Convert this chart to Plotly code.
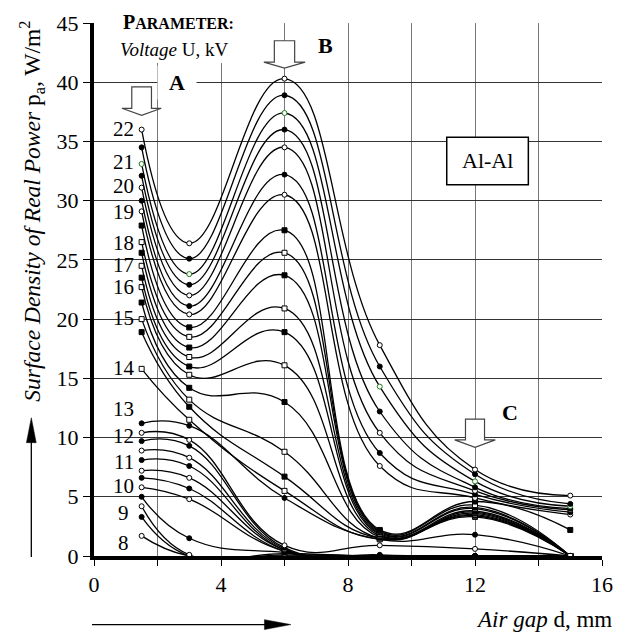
import plotly.graph_objects as go

# ---------------- data ----------------
gap_mm = [1.5, 3, 6, 9, 12, 15]
voltage_kv = [8.0, 8.5, 9.0, 9.5, 10.0, 10.5, 11.0, 11.5, 12.0, 12.5, 13.0, 13.5, 14.0, 14.5,
              15.0, 15.5, 16.0, 16.5, 17.0, 17.5, 18.0, 18.5, 19.0, 19.5, 20.0, 20.5, 21.0, 21.5, 22.0]
p_at_1_5 = [1.7, 3.3, 4.2, 5.0, 5.8, 6.6, 7.2, 8.1, 8.9, 9.7, 10.4, 11.2, 15.8, 18.9, 20.0,
            21.4, 22.7, 23.5, 24.5, 25.6, 26.5, 27.9, 29.1, 30.0, 31.1, 32.1, 33.1, 34.5, 36.0]
p_at_3 = [0.0, 0.0, 0.1, 1.5, 4.8, 5.7, 6.6, 7.6, 8.3, 9.3, 9.8, 11.0, 11.5, 12.6, 13.2,
          14.2, 15.3, 16.0, 16.8, 17.6, 18.5, 19.3, 20.4, 21.1, 22.0, 22.9, 23.8, 25.1, 26.4]
p_at_6 = [0.0, 0.1, 0.2, 0.3, 0.4, 0.4, 0.5, 0.5, 0.6, 0.7, 0.9, 4.9, 5.5, 6.7, 8.8,
          13.0, 16.1, 18.9, 20.9, 23.7, 25.6, 27.5, 30.5, 32.2, 34.5, 36.0, 37.4, 38.9, 40.3]
p_at_9 = [0.0, 0.0, 0.0, 0.0, 0.0, 0.0, 0.0, 0.0, 0.0, 0.1, 0.9, 1.4, 1.4, 1.5, 1.5,
          1.6, 1.7, 1.8, 1.9, 2.0, 2.1, 2.2, 7.6, 8.7, 10.4, 12.2, 14.3, 16.0, 17.8]
p_at_12 = [0.0, 0.0, 0.0, 0.0, 0.0, 0.0, 0.0, 0.0, 0.0, 0.0, 0.6, 1.8, 3.3, 3.4, 3.5,
           3.6, 3.7, 3.8, 4.0, 4.1, 4.3, 4.6, 4.9, 5.2, 5.5, 5.8, 6.3, 6.9, 7.3]
p_at_15 = [0.0, 0.0, 0.0, 0.0, 0.0, 0.0, 0.0, 0.0, 0.0, 0.0, 0.0, 0.0, 0.0, 0.0, 0.0,
           0.0, 0.0, 0.0, 0.0, 0.0, 0.0, 2.2, 3.5, 3.7, 3.9, 4.0, 4.2, 4.4, 5.1]
label_kv = ["8", "9", "10", "11", "12", "13", "14", "15", "16", "17", "18", "19", "20", "21", "22"]
y_tick_vals = [0, 5, 10, 15, 20, 25, 30, 35, 40, 45]
x_tick_vals = [0, 4, 8, 12, 16]

# ---------------- layout constants (positions / styles) ----------------
FONT = "Liberation Serif"
label_x = 0.93
label_y = [1.12, 3.64, 5.88, 7.92, 10.16, 12.4, 15.9, 20.09, 22.67, 24.58, 26.45, 29.05, 31.27, 33.25, 36.05]

fig = go.Figure()

series = [p_at_1_5, p_at_3, p_at_6, p_at_9, p_at_12, p_at_15]
top_circle_style = ["open", "filled", "open", "filled", "green", "filled", "open"]
for i, kv in enumerate(voltage_kv):
    yvals = [s[i] for s in series]
    if i < 12:
        symbol = "circle"
        kind = "filled" if i % 2 == 1 else "open"
    elif i < 22:
        symbol = "square"
        kind = "filled" if (i - 12) % 2 == 1 else "open"
    else:
        symbol = "circle"
        kind = top_circle_style[i - 22]
    if kind == "filled":
        mcolor, lcolor = "black", "black"
    elif kind == "green":
        mcolor, lcolor = "white", "#1f7a1f"
    else:
        mcolor, lcolor = "white", "black"
    fig.add_trace(go.Scatter(
        x=gap_mm, y=yvals, mode="lines+markers", name=f"{kv} kV",
        line=dict(color="black", width=1.3, shape="spline", smoothing=1.3),
        marker=dict(symbol=symbol, size=5, color=mcolor, line=dict(color=lcolor, width=1)),
        hoverinfo="skip",
    ))

# ---------------- shapes ----------------
def block_arrow(cx, top, base, tip, shw, hhw):
    return (f"M {cx-shw},{top} L {cx+shw},{top} L {cx+shw},{base} L {cx+hhw},{base} "
            f"L {cx},{tip} L {cx-hhw},{base} L {cx-shw},{base} Z")

shapes = [
    # white box behind the parameter text
    dict(type="rect", xref="paper", yref="paper", x0=0.006, x1=0.324, y0=0.925, y1=1.02,
         fillcolor="white", line=dict(width=0), layer="above"),
    # block arrows A, B, C
    dict(type="path", xref="x", yref="y", path=block_arrow(1.5, 39.6, 37.8, 37.2, 0.31, 0.62),
         fillcolor="white", line=dict(color="#444", width=1.2), layer="above"),
    dict(type="path", xref="x", yref="y", path=block_arrow(6.0, 43.5, 41.7, 41.2, 0.32, 0.65),
         fillcolor="white", line=dict(color="#444", width=1.2), layer="above"),
    dict(type="path", xref="x", yref="y", path=block_arrow(12.0, 11.56, 9.8, 9.18, 0.30, 0.64),
         fillcolor="white", line=dict(color="#444", width=1.2), layer="above"),
    # Al-Al box
    dict(type="rect", xref="x", yref="y", x0=11.11, x1=13.68, y0=31.34, y1=35.35,
         fillcolor="white", line=dict(color="black", width=1.5), layer="above"),
    # y-direction arrow (left)
    dict(type="line", xref="paper", yref="paper", x0=-0.1234, x1=-0.1234, y0=-0.002, y1=0.22,
         line=dict(color="black", width=1.3)),
    dict(type="path", xref="paper", yref="paper",
         path="M -0.1330,0.2127 L -0.1138,0.2127 L -0.1234,0.2593 Z",
         fillcolor="black", line=dict(color="black", width=0.5)),
    # x-direction arrow (bottom)
    dict(type="line", xref="paper", yref="paper", x0=-0.0039, x1=0.34, y0=-0.1287, y1=-0.1287,
         line=dict(color="black", width=1.3)),
    dict(type="path", xref="paper", yref="paper",
         path="M 0.3355,-0.1194 L 0.3355,-0.1380 L 0.3875,-0.1287 Z",
         fillcolor="black", line=dict(color="black", width=0.5)),
]

# ---------------- annotations ----------------
ann = []
for txt, ly in zip(label_kv, label_y):
    ann.append(dict(x=label_x, y=ly, xref="x", yref="y", text=txt, showarrow=False,
                    xanchor="center", yanchor="middle", font=dict(family=FONT, size=21, color="black")))
ann += [
    dict(x=0.1658, y=1.002, xref="paper", yref="paper", showarrow=False,
         text="<b>P<span style='font-size:16px'>ARAMETER:</span></b>",
         xanchor="center", yanchor="middle", font=dict(family=FONT, size=20, color="black")),
    dict(x=0.158, y=0.950, xref="paper", yref="paper", showarrow=False,
         text="<i>Voltage</i> U, kV",
         xanchor="center", yanchor="middle", font=dict(family=FONT, size=19, color="black")),
    dict(x=2.62, y=39.97, xref="x", yref="y", showarrow=False, text="<b>A</b>",
         xanchor="center", yanchor="middle", bgcolor="white", width=30, borderpad=4,
         font=dict(family=FONT, size=22, color="black")),
    dict(x=7.28, y=43.1, xref="x", yref="y", showarrow=False, text="<b>B</b>",
         xanchor="center", yanchor="middle", font=dict(family=FONT, size=22, color="black")),
    dict(x=13.1, y=12.12, xref="x", yref="y", showarrow=False, text="<b>C</b>",
         xanchor="center", yanchor="middle", font=dict(family=FONT, size=22, color="black")),
    dict(x=12.40, y=33.35, xref="x", yref="y", showarrow=False, text="Al-Al",
         xanchor="center", yanchor="middle", font=dict(family=FONT, size=22, color="black")),
    dict(x=1.024, y=-0.119, xref="paper", yref="paper", showarrow=False,
         text="<i>Air gap</i> d, mm", xanchor="right", yanchor="middle",
         font=dict(family=FONT, size=23, color="black")),
    dict(x=-0.1215, y=0.6465, xref="paper", yref="paper", showarrow=False, textangle=-90,
         text="<i>Surface Density of Real Power</i> p<sub>a</sub>, W/m<sup>2</sup>",
         xanchor="center", yanchor="middle", font=dict(family=FONT, size=23.5, color="black")),
]

fig.update_layout(
    width=624, height=632,
    margin=dict(l=94, r=11, t=20, b=76),
    plot_bgcolor="white", paper_bgcolor="white",
    showlegend=False, hovermode=False,
    font=dict(family=FONT, size=22, color="black"),
    shapes=shapes, annotations=ann,
    xaxis=dict(range=[0, 16], tickvals=x_tick_vals,
               showgrid=True, gridcolor="#777", gridwidth=1,
               showline=True, linecolor="black", linewidth=4,
               ticks="outside", ticklen=6, tickcolor="black", tickwidth=1,
               minor=dict(dtick=2, tick0=0, ticks="outside", ticklen=6, tickcolor="black",
                          showgrid=True, gridcolor="#777", gridwidth=1),
               zeroline=False, tickfont=dict(family=FONT, size=22, color="black")),
    yaxis=dict(range=[0, 45], tickvals=y_tick_vals,
               showgrid=True, gridcolor="#333", gridwidth=1,
               showline=True, linecolor="black", linewidth=4,
               ticks="outside", ticklen=7, tickcolor="black", tickwidth=1,
               zeroline=False, tickfont=dict(family=FONT, size=22, color="black")),
)

fig.write_html("out.html", config={"displayModeBar": False},
               post_script="document.body.style.margin='0px';document.body.style.overflow='hidden';")
